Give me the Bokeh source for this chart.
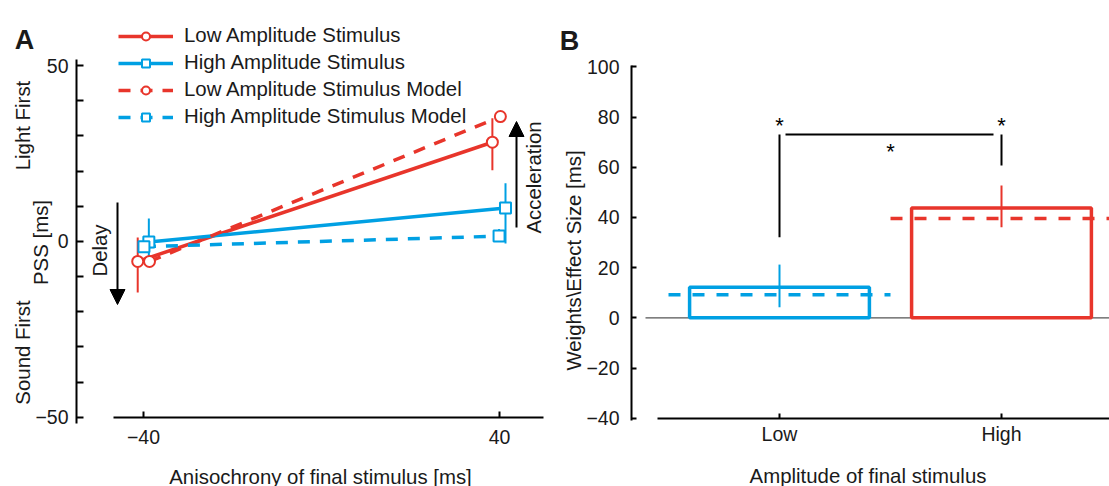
from bokeh.plotting import figure
from bokeh.layouts import row
from bokeh.models import (FixedTicker, Legend, LegendItem, Label, Arrow, NormalHead,
                          ColumnDataSource)
from bokeh.core.properties import value
from bokeh.embed import file_html
from bokeh.resources import INLINE
import math

# ---------------- data: panel A ----------------
series_names = ["Low Amplitude Stimulus", "High Amplitude Stimulus",
                "Low Amplitude Stimulus Model", "High Amplitude Stimulus Model"]
anis_ticks = [-40, 40]
anis_labels = {-40: "\u221240", 40: "40"}
pss_ticks = [-50, -40, -30, -20, -10, 0, 10, 20, 30, 40, 50]
pss_labels = {-50: "\u221250", 0: "0", 50: "50"}

low_x = [-41.3, 38.4]
low_pss = [-5.7, 28.2]
low_lo = [-14.5, 20.2]
low_hi = [1.1, 35.0]

high_x = [-38.8, 41.35]
high_pss = [-0.2, 9.5]
high_lo = [-4.6, -0.6]
high_hi = [6.5, 16.5]

lowm_x = [-38.65, 40.2]
lowm_pss = [-5.7, 35.5]
lowm_lo = [-7.0, 34.3]
lowm_hi = [-4.4, 36.7]

highm_x = [-39.9, 39.9]
highm_pss = [-1.5, 1.5]
highm_lo = [-2.5, 0.3]
highm_hi = [-0.5, 3.5]

# ---------------- data: panel B ----------------
amp_cats = ["Low", "High"]
amp_pos = [1, 2]
effect = [12.2, 43.7]
effect_lo = [4.2, 36.1]
effect_hi = [21.2, 52.7]
model_effect = [9.2, 39.6]
w_ticks = [-40, -20, 0, 20, 40, 60, 80, 100]
sig_top = 73.0
sig_base = [32.1, 60.7]
star_x = [1, 2, 1.5]
star_y = [76.8, 76.8, 66.1]

RED = "#e8352b"
BLUE = "#00a0e3"
FONT = "Liberation Sans"
TXT = "#1a1a1a"
DASH_A = "12 10"
DASH_B = "12 12"

# window pixel -> data helpers (used only to place annotations/frames)
def ax(w):
    return -40 + (w - 143) * 80.0 / 356.0

def ay(w):
    return (240.9 - w) / 3.517

def bx(w):
    return 1 + (w - 779) / 222.0

def by(w):
    return (317.3 - w) / 2.51

def style_axis(a, size="19.5px"):
    a.minor_tick_line_color = None
    a.axis_line_width = 2
    a.major_tick_line_width = 2
    a.major_tick_out = 0
    a.major_label_text_font = FONT
    a.major_label_text_font_size = size
    a.major_label_text_color = TXT
    a.axis_line_color = "black"
    a.major_tick_line_color = "black"

def lab(p, x, y, text, size="20.4px", angle=0.0, align="center", baseline="middle", style="normal"):
    p.add_layout(Label(x=x, y=y, text=text, angle=angle, text_align=align,
                       text_baseline=baseline, text_font=FONT,
                       text_font_size=size, text_color=TXT, text_font_style=style))

R = math.pi / 2

# ================= Panel A =================
WA = 556
pA = figure(width=WA, height=486, output_backend="svg", toolbar_location=None,
            x_range=(ax(0), ax(WA)), y_range=(ay(486), ay(0)),
            min_border=0, min_border_left=0, min_border_right=0,
            min_border_top=0, min_border_bottom=0)
pA.outline_line_color = None
pA.xgrid.visible = False
pA.ygrid.visible = False

ya = pA.yaxis[0]
style_axis(ya)
ya.fixed_location = ax(76)
ya.ticker = FixedTicker(ticks=pss_ticks)
ya.major_label_overrides = {t: pss_labels.get(t, "") for t in pss_ticks}
ya.bounds = (ay(423), ay(59))
ya.major_tick_in = 7
ya.major_label_standoff = 8

xa = pA.xaxis[0]
style_axis(xa)
xa.fixed_location = -50
xa.ticker = FixedTicker(ticks=anis_ticks)
xa.major_label_overrides = anis_labels
xa.bounds = (ax(113), ax(543))
xa.major_tick_in = 6
xa.major_label_standoff = 13

series = [
    (low_x, low_pss, low_lo, low_hi, RED, "circle", None),
    (high_x, high_pss, high_lo, high_hi, BLUE, "square", None),
    (lowm_x, lowm_pss, lowm_lo, lowm_hi, RED, "circle", DASH_A),
    (highm_x, highm_pss, highm_lo, highm_hi, BLUE, "square", DASH_A),
]

for xs, ys, lo, hi, col, mk, dash in series:
    pA.segment(x0=xs, y0=lo, x1=xs, y1=hi, line_color=col, line_width=2)
rend = []
for xs, ys, lo, hi, col, mk, dash in series:
    kw = {} if dash is None else {"line_dash": dash}
    rend.append(pA.line(xs, ys, line_color=col, line_width=3.5, **kw))
marks = []
for xs, ys, lo, hi, col, mk, dash in series:
    marks.append(pA.scatter(xs, ys, marker=mk, size=11, fill_color="white",
                            line_color=col, line_width=2))

items = [LegendItem(label=n, renderers=[l, m]) for n, l, m in zip(series_names, rend, marks)]
leg = Legend(items=items, location=(118, 358), padding=0, margin=0, spacing=4,
             glyph_width=55, glyph_height=20, label_height=20, label_standoff=11,
             border_line_color=None, background_fill_alpha=0,
             label_text_font=FONT, label_text_font_size="20.4px", label_text_color=TXT)
pA.add_layout(leg)

pA.add_layout(Arrow(end=NormalHead(size=15, fill_color="black", line_color="black", line_width=1),
                    x_start=ax(117), y_start=ay(202), x_end=ax(117), y_end=ay(304),
                    line_width=2, line_color="black"))
pA.add_layout(Arrow(end=NormalHead(size=15, fill_color="black", line_color="black", line_width=1),
                    x_start=ax(516), y_start=ay(227), x_end=ax(516), y_end=ay(121),
                    line_width=2, line_color="black"))

lab(pA, ax(22), ay(125), "Light First", angle=R)
lab(pA, ax(22), ay(352), "Sound First", angle=R)
lab(pA, ax(40), ay(242), "PSS [ms]", angle=R)
lab(pA, ax(99), ay(250), "Delay", angle=R)
lab(pA, ax(533), ay(177), "Acceleration", angle=R)
lab(pA, ax(320), ay(476), "Anisochrony of final stimulus [ms]")
lab(pA, ax(24), ay(39), "A", size="27px", baseline="alphabetic", style="bold")

# ================= Panel B =================
WB = 1109 - WA
pB = figure(width=WB, height=486, output_backend="svg", toolbar_location=None,
            x_range=(bx(WA), bx(1109)), y_range=(by(486), by(0)),
            min_border=0, min_border_left=0, min_border_right=0,
            min_border_top=0, min_border_bottom=0)
pB.outline_line_color = None
pB.xgrid.visible = False
pB.ygrid.visible = False

yb = pB.yaxis[0]
style_axis(yb)
yb.fixed_location = bx(631)
yb.ticker = FixedTicker(ticks=w_ticks)
yb.major_label_overrides = {t: (str(t) if t >= 0 else "\u2212" + str(-t)) for t in w_ticks}
yb.bounds = (by(420), by(65))
yb.major_tick_in = 5
yb.major_label_standoff = 12

xb = pB.xaxis[0]
style_axis(xb)
xb.fixed_location = -40
xb.ticker = FixedTicker(ticks=amp_pos)
xb.major_label_overrides = dict(zip(amp_pos, amp_cats))
xb.bounds = (bx(657), bx(1115))
xb.major_tick_in = 5
xb.major_label_standoff = 5

bar_colors = [BLUE, RED]
src = ColumnDataSource(dict(x=amp_pos, top=effect, lo=effect_lo, hi=effect_hi,
                            model=model_effect, color=bar_colors,
                            mx0=[v - 0.5 for v in amp_pos], mx1=[v + 0.5 for v in amp_pos]))

pB.segment(x0=[bx(645)], y0=[0], x1=[bx(1115)], y1=[0], line_color="#555555", line_width=1.2)
pB.vbar(x="x", top="top", bottom=0, width=0.81, source=src, fill_color="white",
        fill_alpha=0, line_color="color", line_width=3.5)
pB.segment(x0="x", y0="lo", x1="x", y1="hi", source=src, line_color="color", line_width=2)
pB.segment(x0="mx0", y0="model", x1="mx1", y1="model", source=src, line_color="color",
           line_width=3.5, line_dash=DASH_B)

pB.segment(x0=amp_pos, y0=sig_base, x1=amp_pos, y1=[sig_top, sig_top],
           line_color="black", line_width=2)
pB.segment(x0=[bx(785)], y0=[sig_top], x1=[bx(993)], y1=[sig_top],
           line_color="black", line_width=2)
pB.text(x=star_x, y=star_y, text=["*", "*", "*"], text_align="center",
        text_baseline="middle", text_font=value(FONT), text_font_size="22px",
        text_color="black")

lab(pB, bx(573), by(260), "Weights\\Effect Size [ms]", angle=R)
lab(pB, bx(867.5), by(475), "Amplitude of final stimulus")
lab(pB, bx(569), by(40), "B", size="27px", baseline="alphabetic", style="bold")

layout = row(pA, pB)
open("out.html", "w").write(file_html(layout, INLINE))
